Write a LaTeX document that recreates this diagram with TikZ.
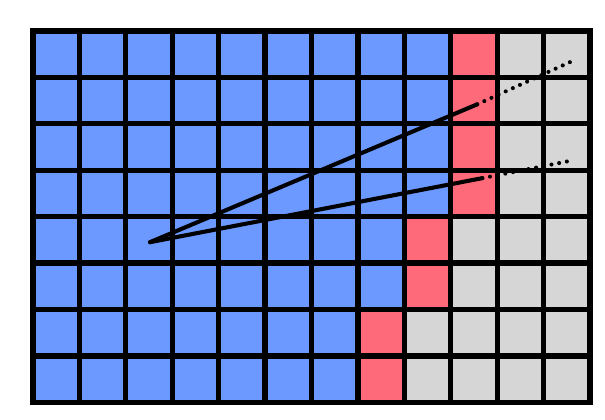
\documentclass[tikz,border=0pt]{standalone}
\usepackage{tikz}
\definecolor{cellblue}{HTML}{6B99FF}
\definecolor{cellred}{HTML}{FF6A7B}
\definecolor{cellgray}{HTML}{D6D6D6}
\tikzset{gridline/.style = {line width=3.2pt,line cap=rect}}
\tikzset{ray/.style = {line width=2.5pt,line cap=round}}
\tikzset{trail/.style = {line width=2.5pt,line cap=round,dash pattern=on 0pt off 4.8pt}}

\begin{document}
\begin{tikzpicture}
            \useasboundingbox (-0.711,-0.366) rectangle (12.323,8.668);
            % cells
            \fill[cellblue] (0,0) -- (7,0) -- (7,2) -- (8,2) -- (8,4) -- (9,4) -- (9,8) -- (0,8) -- cycle;
            \fill[cellred] (7,0) rectangle (8,2);
            \fill[cellred] (8,2) rectangle (9,4);
            \fill[cellred] (9,4) rectangle (10,8);
            \fill[cellgray] (8,0) rectangle (12,2);
            \fill[cellgray] (9,2) rectangle (12,4);
            \fill[cellgray] (10,4) rectangle (12,8);
            \draw[gridline] (0,0) grid (12,8);
            \draw[gridline] (0,0) rectangle (12,8);
            % rays
            \coordinate (o) at (2.52,3.45);
            \coordinate (p1) at (9.57,6.42);
            \coordinate (q1) at (11.57,7.33);
            \coordinate (p2) at (9.68,4.83);
            \coordinate (q2) at (11.51,5.19);
            \draw[ray] (o) -- (p1);
            \draw[trail] (p1) -- (q1);
            \draw[ray] (o) -- (p2);
            \draw[trail] (p2) -- (q2);
        \end{tikzpicture}
\end{document}
